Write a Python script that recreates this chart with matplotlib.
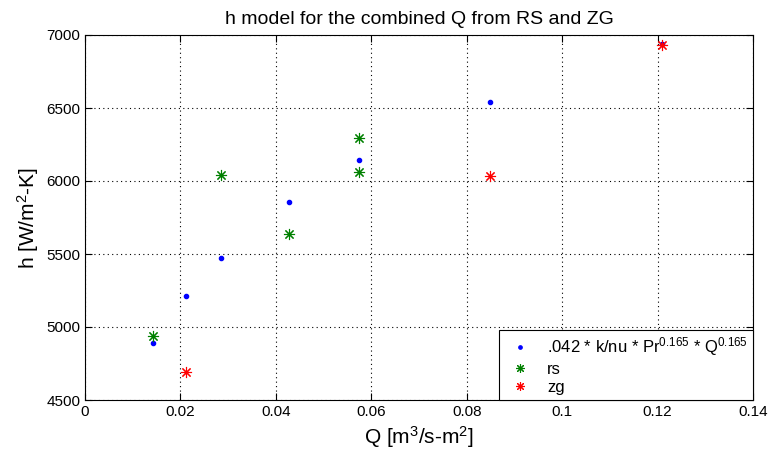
import matplotlib
matplotlib.use("Agg")
import matplotlib.pyplot as plt

plt.rcParams['font.family'] = ['Liberation Sans', 'DejaVu Sans']
plt.rcParams['mathtext.fontset'] = 'custom'
plt.rcParams['mathtext.rm'] = 'Liberation Sans'
plt.rcParams['mathtext.default'] = 'regular'

# Data
q_model = [0.0142, 0.0212, 0.0284, 0.0428, 0.0574, 0.0848, 0.1210]
h_model = [4890, 5214, 5475, 5856, 6144, 6541, 6940]
q_rs = [0.0142, 0.0284, 0.0428, 0.0574, 0.0574]
h_rs = [4936, 6039, 5635, 6060, 6294]
q_zg = [0.0212, 0.0848, 0.1210]
h_zg = [4692, 6034, 6934]

xticks = [0, 0.02, 0.04, 0.06, 0.08, 0.1, 0.12, 0.14]
xticklabels = ['0', '0.02', '0.04', '0.06', '0.08', '0.1', '0.12', '0.14']
yticks = [4500, 5000, 5500, 6000, 6500, 7000]
yticklabels = ['4500', '5000', '5500', '6000', '6500', '7000']

fig = plt.figure(figsize=(7.7, 4.54), dpi=100)
ax = fig.add_axes([85/770, 1-400/454, (753-85)/770, (400-35)/454])

ax.plot(q_model, h_model, linestyle='none', marker='o', markersize=3,
        color=(0, 0, 1), label=r'.042 * k/nu * Pr$^{0.165}$ * Q$^{0.165}$')
ax.plot(q_rs, h_rs, linestyle='none', marker=(8, 2, 0), markersize=8,
        markeredgewidth=0.8, color=(0, 0.5, 0), label='rs')
ax.plot(q_zg, h_zg, linestyle='none', marker=(8, 2, 0), markersize=8,
        markeredgewidth=0.8, color=(1, 0, 0), label='zg')

ax.set_xlim(0, 0.14)
ax.set_ylim(4500, 7000)
ax.set_xticks(xticks)
ax.set_xticklabels(xticklabels)
ax.set_yticks(yticks)
ax.set_yticklabels(yticklabels)
ax.tick_params(direction='in', top=True, right=True, labelsize=11, length=5, width=0.8)
ax.grid(True, linestyle=(0, (1, 3)), color='black', linewidth=0.8)
for s in ax.spines.values():
    s.set_color('black')
    s.set_linewidth(0.8)

ax.set_title('h model for the combined Q from RS and ZG', fontsize=14, pad=8)
ax.set_xlabel(r'Q [m$^{3}$/s-m$^{2}$]', fontsize=15, labelpad=4)
ax.set_ylabel(r'h [W/m$^{2}$-K]', fontsize=15, labelpad=4)

leg = ax.legend(loc='lower right', fontsize=12, frameon=True, fancybox=False,
                edgecolor='black', framealpha=1, borderaxespad=0,
                handletextpad=0.6, labelspacing=0.2, borderpad=0.3,
                markerscale=0.8, handlelength=2.0)
leg.get_frame().set_linewidth(0.8)

fig.savefig('out.png', dpi=100)
